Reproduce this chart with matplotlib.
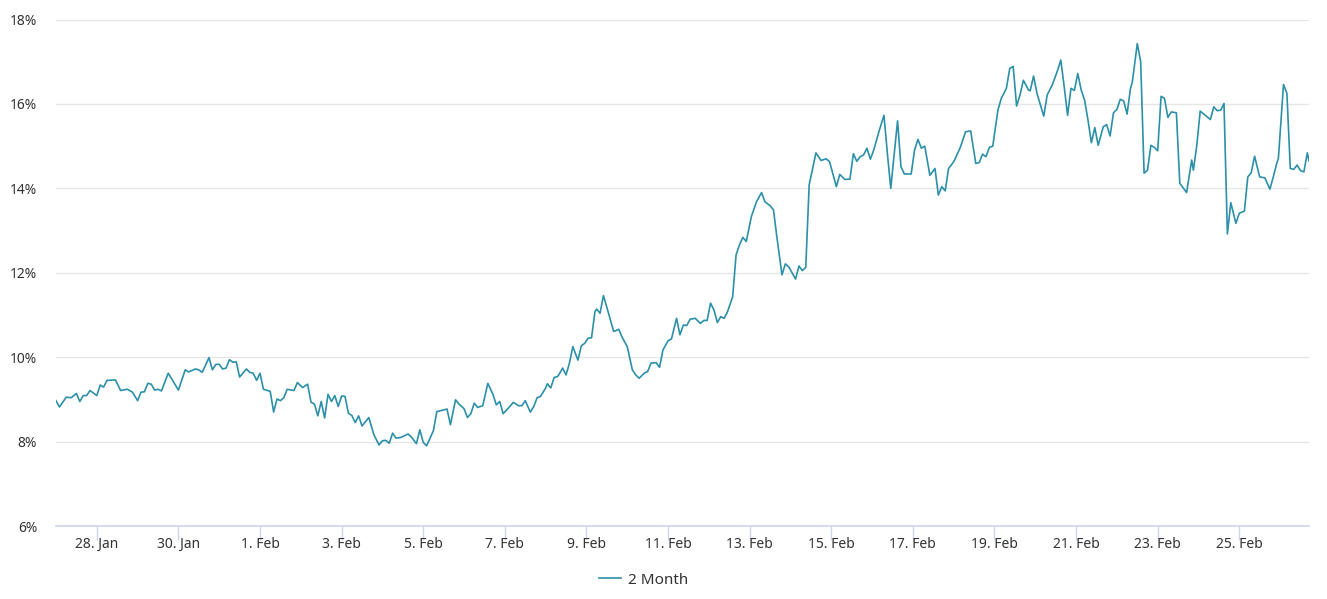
import numpy as np
import pandas as pd
import matplotlib
matplotlib.use("Agg")
import matplotlib.pyplot as plt
import matplotlib.dates as mdates

# hours since 27 Jan 00:00 and rate in %
hours = [0, 2, 6, 9, 12, 14, 16, 18, 20, 24, 26, 28, 30, 35, 38, 42, 45, 48, 50, 52,
         54, 56, 58, 60, 62, 66, 68, 72, 76, 78, 82, 84, 86, 90, 92, 94, 96, 98, 100, 102,
         104, 106, 108, 112, 114, 116, 118, 120, 122, 126, 128, 130, 132, 134, 136, 140, 142, 145, 148, 150,
         152, 154, 156, 158, 160, 162, 164, 166, 168, 170, 172, 174, 176, 178, 180, 184, 187, 190, 192, 194,
         196, 198, 200, 203, 207, 209, 212, 214, 216, 218, 222, 224, 228, 230, 232, 235, 237, 240, 242, 244,
         246, 248, 251, 254, 257, 259, 261, 263, 266, 269, 272, 274, 276, 279, 281, 283, 285, 288, 289, 291,
         293, 295, 296, 298, 300, 302, 304, 307, 309, 311, 313, 315, 317, 318, 320, 322, 325, 328, 331, 333,
         336, 339, 341, 343, 346, 348, 350, 353, 355, 357, 360, 362, 365, 367, 369, 371, 373, 376, 379, 381,
         383, 385, 387, 389, 391, 393, 395, 398, 400, 402, 404, 406, 409, 412, 415, 417, 420, 422, 424, 427,
         429, 431, 435, 437, 439, 441, 443, 447, 450, 453, 455, 459, 461, 464, 467, 469, 471, 473, 475, 477,
         479, 481, 484, 487, 489, 491, 495, 497, 499, 503, 505, 507, 509, 511, 514, 517, 519, 521, 523, 525,
         528, 529, 532, 535, 538, 541, 543, 545, 547, 549, 551, 554, 556, 559, 561, 563, 565, 567, 569, 572,
         573, 575, 577, 581, 583, 586, 589, 591, 593, 595, 597, 599, 601, 603, 605, 607, 609, 611, 613, 616,
         618, 620, 622, 624, 626, 628, 630, 632, 633, 636, 638, 640, 642, 644, 646, 648, 650, 652, 654, 656,
         659, 661, 665, 668, 669, 671, 673, 676, 679, 681, 683, 685, 687, 689, 691, 694, 696, 699, 701, 703,
         705, 708, 711, 714, 716, 718, 719, 722, 724, 726, 728, 730, 732, 734, 736, 737]

rate = [8.97, 8.82, 9.05, 9.04, 9.14, 8.95, 9.09, 9.09, 9.21, 9.09, 9.34, 9.29, 9.45, 9.46, 9.21, 9.24, 9.17, 8.97, 9.17, 9.18,
        9.38, 9.36, 9.22, 9.24, 9.20, 9.62, 9.49, 9.22, 9.70, 9.65, 9.72, 9.70, 9.64, 9.99, 9.70, 9.83, 9.83, 9.72, 9.74, 9.94,
        9.88, 9.89, 9.53, 9.72, 9.64, 9.62, 9.45, 9.62, 9.24, 9.19, 8.70, 9.01, 8.97, 9.04, 9.24, 9.21, 9.40, 9.28, 9.36, 8.93,
        8.89, 8.61, 8.95, 8.56, 9.12, 8.95, 9.09, 8.83, 9.08, 9.07, 8.67, 8.62, 8.45, 8.61, 8.37, 8.57, 8.16, 7.92, 8.02, 8.03,
        7.96, 8.20, 8.08, 8.10, 8.18, 8.11, 7.95, 8.28, 7.98, 7.90, 8.26, 8.71, 8.75, 8.77, 8.40, 8.99, 8.89, 8.78, 8.57, 8.66,
        8.91, 8.81, 8.85, 9.38, 9.12, 8.87, 8.95, 8.66, 8.79, 8.93, 8.85, 8.85, 8.97, 8.70, 8.83, 9.04, 9.07, 9.27, 9.37, 9.27,
        9.52, 9.54, 9.60, 9.74, 9.58, 9.86, 10.25, 9.93, 10.27, 10.33, 10.45, 10.46, 11.08, 11.14, 11.04, 11.46, 11.04, 10.61, 10.66, 10.47,
        10.25, 9.70, 9.58, 9.50, 9.62, 9.66, 9.86, 9.87, 9.76, 10.17, 10.39, 10.43, 10.92, 10.53, 10.76, 10.75, 10.90, 10.92, 10.80, 10.87,
        10.87, 11.28, 11.12, 10.82, 10.96, 10.92, 11.08, 11.43, 12.42, 12.66, 12.84, 12.74, 13.33, 13.68, 13.90, 13.68, 13.59, 13.49, 12.85, 11.95,
        12.21, 12.14, 11.85, 12.16, 12.05, 12.13, 14.08, 14.84, 14.66, 14.70, 14.63, 14.04, 14.33, 14.21, 14.22, 14.82, 14.64, 14.75, 14.79, 14.95,
        14.69, 14.91, 15.34, 15.73, 14.83, 14.00, 15.60, 14.51, 14.34, 14.34, 14.91, 15.16, 14.95, 15.00, 14.31, 14.47, 13.84, 14.04, 13.94, 14.47,
        14.63, 14.71, 14.98, 15.34, 15.36, 14.59, 14.61, 14.81, 14.75, 14.97, 15.00, 15.85, 16.13, 16.37, 16.84, 16.89, 15.95, 16.21, 16.56, 16.33,
        16.31, 16.66, 16.25, 15.71, 16.21, 16.45, 16.78, 17.04, 16.41, 15.73, 16.37, 16.32, 16.72, 16.33, 16.09, 15.62, 15.08, 15.44, 15.02, 15.46,
        15.51, 15.24, 15.79, 15.87, 16.11, 16.07, 15.76, 16.37, 16.50, 17.43, 17.00, 14.36, 14.43, 15.02, 14.97, 14.89, 16.18, 16.13, 15.68, 15.81,
        15.79, 14.12, 13.90, 14.67, 14.43, 15.02, 15.83, 15.73, 15.63, 15.93, 15.84, 15.85, 16.01, 12.92, 13.66, 13.17, 13.41, 13.46, 14.27, 14.37,
        14.76, 14.27, 14.25, 13.98, 14.27, 14.59, 14.71, 16.46, 16.25, 14.47, 14.45, 14.55, 14.42, 14.39, 14.84, 14.65]

series_name = "2 Month"
y_ticks = [6, 8, 10, 12, 14, 16, 18]

plt.rcParams['font.family'] = ['Noto Sans', 'DejaVu Sans']

start = pd.Timestamp("2021-01-27")
times = start + pd.to_timedelta(hours, unit="h")

fig = plt.figure(figsize=(13.27, 5.99), dpi=100)
ax = fig.add_axes([56 / 1327, 1 - 526 / 599, (1309 - 56) / 1327, (526 - 19.5) / 599])

line_color = '#2b90a8'
ax.plot(times, rate, color=line_color, linewidth=1.2, label=series_name)

ax.set_ylim(6, 18)
ax.set_yticks(y_ticks)
ax.set_yticklabels([f"{t}%" for t in y_ticks])
ax.set_xlim(times[0], times[-1])

ax.xaxis.set_major_locator(mdates.DayLocator(bymonthday=[28, 30, 1, 3, 5, 7, 9, 11, 13, 15, 17, 19, 21, 23, 25]))
ax.xaxis.set_major_formatter(mdates.DateFormatter('%-d. %b'))

ax.grid(axis='y', color='#e6e6e6', linewidth=1)
ax.set_axisbelow(True)
for s in ['top', 'right', 'left']:
    ax.spines[s].set_visible(False)
ax.spines['bottom'].set_color('#ccd6eb')
ax.spines['bottom'].set_linewidth(1.2)

ax.tick_params(axis='y', length=0, pad=13.5, labelsize=10, labelcolor='#333333')
ax.tick_params(axis='x', length=10, width=1, color='#ccd6eb', pad=-2, labelsize=10, labelcolor='#333333')

leg = fig.legend(loc='center', bbox_to_anchor=(644 / 1327, 1 - 580 / 599), frameon=False,
                 fontsize=11, handlelength=1.4, handletextpad=0.5)
for t in leg.get_texts():
    t.set_color('#333333')

fig.savefig('out.png', dpi=100)
